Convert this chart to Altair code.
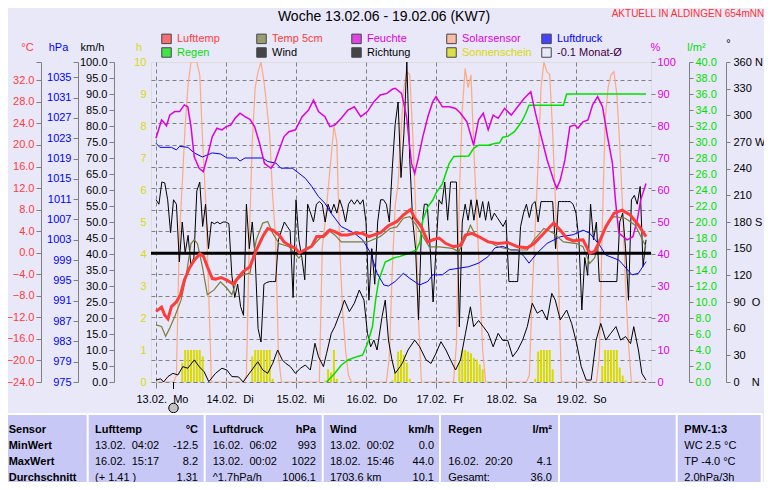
import altair as alt
import pandas as pd

# ---------------- values (x = hours since 13.02. 00:00) ----------------
temp = [(0,-10.9),(1.9,-10.1),(3,-11.6),(4.1,-12.3),(5.3,-10.0),(7,-9.1),(8.4,-7.8),(9.7,-5.1),(11.4,-2.9),
        (13.1,-1.4),(15.1,-0.2),(16.3,-0.7),(17.6,-2.6),(19.3,-4.8),(20.4,-4.9),(22.3,-4.6),(24.3,-5.1),
        (26.5,-5.8),(28.2,-4.6),(29.9,-3.5),(32.2,-2.6),(34.4,0.5),(36.6,3.0),(38.3,4.5),(40,4.2),(42.2,3.3),
        (43.9,2.0),(45.6,1.4),(47.8,0.8),(49.2,0.0),(51.2,0.6),(53.4,1.2),(55.1,3.0),(57.4,3.0),(59.6,4.2),
        (61.3,3.9),(63.5,3.3),(65.8,3.3),(68,3.6),(70.8,3.6),(73,3.0),(74.7,3.3),(76.9,3.7),(79.7,5.0),
        (82.6,5.8),(84.8,7.0),(87.3,8.0),(88.7,6.4),(91,4.8),(93.2,2.0),(94.9,2.4),(97.1,2.7),(99.4,1.7),
        (102.1,1.1),(104.4,1.4),(106.1,3.3),(108.3,3.6),(110.6,3.0),(113.9,2.0),(117.3,1.7),(120.6,1.9),
        (124,1.1),(127.3,0.9),(129.6,1.7),(132.4,3.3),(136.3,5.5),(138.6,4.2),(140.8,2.7),(143.1,2.2),
        (146.4,2.4),(148.7,-0.1),(150.3,0.2),(152,2.0),(154.2,4.8),(157,7.3),(159.8,7.9),(162.6,7.0),
        (165.4,5.1),(168,3.0)]
temp5 = [(0,-13.4),(1.9,-13.7),(3.3,-15.5),(4.7,-14.0),(6.4,-11.9),(8.6,-8.8),(10.3,-4.5),(12,1.7),(13.1,2.4),
         (14.2,1.7),(15.9,-2.6),(17.6,-7.8),(19.9,-6.9),(22.1,-5.4),(24.3,-6.6),(26,-7.8),(27.7,-5.1),
         (29.9,-4.1),(32.2,-3.8),(34.4,2.4),(36.6,5.5),(38.3,5.8),(40,3.6),(42.2,1.7),(45.6,1.1),(49,-1.0),
         (51.2,0.5),(53.4,1.1),(55.7,2.4),(59,4.2),(61.3,3.3),(63.5,2.0),(68,2.0),(72.5,2.0),(76.9,3.0),
         (80.3,4.5),(82.6,4.8),(84.8,6.4),(87,6.7),(89.3,5.1),(91.5,3.0),(93.7,1.1),(97.1,1.1),(101.6,0.8),
         (103.8,0.2),(106.1,2.7),(107.8,5.1),(109.5,3.3),(112.8,2.4),(117.3,1.1),(121.8,0.5),(127.3,0.5),
         (129.6,2.4),(133,4.5),(136.3,3.6),(139.7,2.0),(144.2,1.7),(146.4,1.1),(148.7,-2.0),(150.3,-1.0),
         (152.5,2.4),(154.8,5.5),(157,6.7),(160.9,6.4),(164.3,5.1),(168,1.1)]
humidity = [(0,76.2),(1.9,81.9),(2.5,81.3),(3.6,80),(4.7,83.4),(6.4,84.5),(8.1,84.5),(9.7,86.6),(10.9,86),
            (12,79.8),(13.1,70.4),(14.8,66.8),(16.2,65.7),(17.6,70.4),(19.3,76.7),(20.9,79.3),(22.6,78.8),
            (24.1,79.8),(25.6,80.3),(27.1,82.4),(28.8,84),(30.5,82.9),(32.2,82.1),(33.8,79.8),(35.5,74.6),
            (37.2,68.3),(39.4,66.8),(40.6,68.3),(42.2,72.5),(43.9,76.7),(45.6,78.2),(47.8,78.8),(50.1,82.9),
            (52.3,85),(54,88.1),(55.7,84.5),(57.9,82.9),(59.6,79.8),(61.3,80.3),(63.5,82.4),(65.8,85),(68,86),
            (70.2,82.9),(72.5,84.5),(74.7,87.6),(76.9,89.7),(79.2,90.2),(81,91.5),(82,91.8),(84.2,90.2),
            (85.9,82.9),(87.6,68.3),(88.7,65.2),(89.8,69.4),(91.5,76.7),(93.2,82.9),(94.9,87.6),(96,89.2),
            (98.2,86),(100.5,86),(102.7,85.5),(104.4,84),(106.6,81.3),(108.9,74),(110.6,81.9),(112.2,84),
            (113.9,78.8),(115.6,83.4),(117.3,82.4),(119.5,85.5),(121.8,83.4),(124,86),(126.2,88.6),
            (128.5,90.7),(130.1,84),(131.8,77.7),(134.1,69.4),(136.3,63.1),(137.4,60.5),(138.6,63.1),
            (140.2,69.4),(141.9,79.8),(143.6,80.3),(144.7,79.3),(146.4,81.3),(148.1,81.9),(149.7,86.6),
            (151.4,89.2),(153.1,86),(154.8,76.7),(156.5,68.3),(157.5,57),(158.7,46.5),(161.5,44.4),
            (163.5,45.4),(165,50.6),(166.2,57),(168,62)]
pressure = [(0,1022.0),(1.3,1021.2),(5.3,1021.2),(7,1020.7),(8.1,1021.4),(10.9,1021.2),(13.1,1020.1),
            (15.9,1019.3),(19.3,1020.1),(22.1,1019.9),(24.3,1019.1),(27.7,1019.1),(28.8,1018.5),(30.5,1019.1),
            (36.6,1019.1),(38.3,1018.4),(41.1,1018.1),(42.8,1017.1),(46.7,1017.1),(49,1016.1),(51.2,1015.1),
            (53.4,1013.5),(55.7,1011.5),(57.9,1010.2),(60.1,1008.2),(63.5,1005.6),(68,1004.3),(70.8,1003),
            (73.6,1000.4),(75.8,996.4),(78.1,994.1),(79.7,993.9),(82,994.8),(84.8,996.4),(87,995.4),
            (90.4,994.1),(93.2,994.8),(94.9,996.1),(98.2,996.1),(100.5,997.1),(103.8,997.4),(107.2,997.7),
            (110.6,998.4),(113.9,999.7),(116.2,1001.4),(118.9,1001.7),(121.7,1001),(124,1001),(126.2,999.7),
            (127.9,998.4),(130.7,1000.4),(134.1,1002.3),(138.6,1003.6),(143.1,1004),(146.4,1004.9),
            (148.7,1004.3),(152,1002),(154.2,1000),(158.7,999),(163.2,996.1),(165.4,996.4),(168,998.7)]
rain = [(58.5,0),(61.3,1.1),(63.5,2.1),(65.8,2.75),(69.1,3.2),(70.8,3.35),(72.5,4.8),(74.2,6.9),(75.3,10.25),
        (76.4,12.75),(78.6,15),(81.4,15.5),(83.7,15.7),(86,16.0),(89.3,16.5),(90.5,17.5),(91.5,20.25),
        (93.2,21.9),(94.9,22.75),(96,23.6),(98.2,24.8),(100.5,27.3),(102.1,28.2),(107.2,28.25),(108.9,29.2),
        (110.6,29.6),(113.9,29.6),(116.1,29.8),(117.8,29.9),(118.9,30.6),(120.6,30.7),(122.9,31.3),
        (124.5,32.1),(125.7,32.75),(126.8,33.6),(127.9,34.6),(139.7,34.6),(140.8,36),(168,36)]
wind = [(0,0.6),(1.6,1),(2.6,0),(4.1,1.7),(5.8,2.7),(7.5,2.2),(9.2,4.8),(10.9,4.3),(13.1,6.9),(14.8,4.8),
        (16.5,3.2),(18.1,0.1),(20.4,2.7),(22.6,4.3),(24.3,3.75),(26,1.7),(28.3,1.6),(29.9,0),(31.6,2.2),
        (33.3,4.3),(34.9,6.3),(36.6,3.75),(38.3,2.7),(40,5.8),(41.7,10),(43.3,6.9),(44.5,5.8),(46.1,4.8),
        (47.8,2.7),(49.5,4.3),(51.2,5.3),(52.9,3.75),(54.5,12.1),(55.7,7.9),(57.4,4.8),(58.5,9),(60.1,15.2),
        (61.3,17.3),(63.5,22.5),(64.6,25.6),(66.3,22),(68,24.6),(69.7,28.75),(71.3,25.6),(72.5,15.2),
        (73.6,11),(74.7,13.1),(75.8,10),(77.5,20.4),(78.6,25.6),(79.7,13.1),(80.9,6.9),(82,2.7),(83.7,4.8),
        (84.5,6),(86.4,10),(88.7,13.1),(90.4,11),(92.6,6.9),(94.3,5.8),(96,9),(97.7,12.6),(99.4,10),(101,6.9),
        (102.7,3.75),(104.4,6.9),(106.1,15.2),(107.8,23.5),(108.9,17.3),(110.6,19.2),(112.2,17.3),
        (113.9,15.2),(115.6,11),(117.3,15.2),(118.9,13),(120.6,13),(122.3,7.9),(124,10),(125.7,13.1),
        (127.3,17.3),(129,24.6),(130.7,21.5),(132.4,22.5),(134.1,19.4),(135.7,27.7),(136.9,25.6),
        (138.6,19.4),(140.8,22.5),(142.5,18.3),(144.2,12.1),(145.8,4.8),(147.5,0.6),(149.2,0.6),(150.9,13.1),
        (152.5,18.3),(154.2,13.1),(155.9,15.2),(157.7,17.3),(159.3,13.1),(161,14.2),(162.7,12),(163.8,17.3),
        (165.4,10),(166.6,2.7),(168,0.6)]
# hourly wind direction in degrees (h = 0 .. 168)
direction = [205,200,225,224,205,168,205,200,135,180, 145,165,130,140,215,225,175,200,150,180,
             178,180,178,180,180,178,120,95,110,85, 75,200,150,180,140,60,45,110,112,113,
             113,113,160,170,180,175,170,95,205,160, 140,115,200,190,180,200,203,200,180,200,
             190,200,190,205,195,180,200,205,200,205, 200,205,180,92,150,110,180,205,205,200,
             180,240,290,315,230,280,360,250,182,150, 70,170,200,200,150,90,150,205,200,225,
             182,225,225,225,62,180,200,182,205,182, 205,185,203,182,203,182,190,185,180,175,
             182,113,113,113,113,175,190,200,185,200, 203,180,203,203,203,203,203,150,203,203,
             203,203,203,200,190,160,81,140,120,200, 160,180,113,113,113,113,113,113,113,180,
             190,150,92,205,210,200,220,130,160]
# hourly solar sensor (share of the plotted range, clipped at the top)
solar = [0,0,0,0,0,0,0,2,45,62, 80,93,100,100,100,96,75,57,30,0, 0,0,0,0,0,0,0,0,0,0,
         0,2,45,75,92,97,100,94,86,77, 58,45,8,0,0,0,0,0,0,0, 0,0,0,0,0,0,0,42,50,60,
         70,80,75,42,22,10,2,0,0,0, 0,0,0,0,0,0,0,0,0,0, 8,35,55,62,78,92,97,96,78,55,
         20,0,0,0,0,0,0,0,0,0, 0,0,0,12,58,85,98,92,96,72, 52,32,10,0,0,0,0,0,0,0,
         0,0,0,0,0,0,0,0,2,28, 48,68,92,100,97,96,78,55,33,0, 0,0,0,0,0,0,0,0,0,0,
         0,0,8,48,82,92,96,97,90,74, 54,30,12,0,0,0,0,0,0]
sunshine = [(9,0.6),(10,1),(11,1),(12,1),(13,1),(14,1),(15,1),(16,0.8),
            (33,0.8),(34,1),(35,1),(36,1),(37,1),(38,1),(39,1),(40,0.1),
            (58,0.05),(59,0.4),(60,0.3),(61,1.0),(62,0.1),
            (81,0.05),(82,0.35),(83,0.95),(84,1.0),(85,0.85),(86,0.6),(87,0.1),
            (104,0.6),(105,1),(106,1),(107,0.95),(108,0.9),(109,0.75),(110,0.7),(111,0.55),(112,0.4),
            (130,0.1),(131,0.95),(132,1),(133,1),(134,1),(135,1),(136,0.4),
            (153,0.5),(154,1),(155,1),(156,1),(157,1),(158,1),(159,0.45),(160,0.2),(161,0.05)]
month_avg = [-0.1]
marker_hour = [6]

day_labels = ["13.02.\u00a0 Mo", "14.02.\u00a0 Di", "15.02.\u00a0 Mi", "16.02.\u00a0 Do",
              "17.02.\u00a0 Fr", "18.02.\u00a0 Sa", "19.02.\u00a0 So"]
legend_names = ["Lufttemp", "Temp 5cm", "Feuchte", "Solarsensor", "Luftdruck",
                "Regen", "Wind", "Richtung", "Sonnenschein", "-0.1 Monat-Ø"]

title_text = "Woche 13.02.06 - 19.02.06 (KW7)"
station_text = "AKTUELL IN ALDINGEN 654mNN"
row_labels = ["Sensor", "MinWert", "MaxWert", "Durchschnitt"]
headers = [("Lufttemp", "°C"), ("Luftdruck", "hPa"), ("Wind", "km/h"), ("Regen", "l/m²")]
col_left = [["13.02.\u00a0 04:02", "16.02.\u00a0 15:17", "\u00a0(+ 1.41 )"],
            ["16.02.\u00a0 06:02", "13.02.\u00a0 00:02", "^1.7hPa/h"],
            ["13.02.\u00a0 00:02", "18.02.\u00a0 15:46", "1703.6 km"],
            ["", "16.02.\u00a0 20:20", "Gesamt:"]]
col_right = [["-12.5", "8.2", "1.31"], ["993", "1022", "1006.1"], ["0.0", "44.0", "10.1"], ["", "4.1", "36.0"]]
pmv = ["PMV-1:3", "WC 2.5 °C", "TP -4.0 °C", "2.0hPa/3h"]

# ---------------- styling ----------------
FONT = "Liberation Sans"
GRAY = "#808080"
BG = "#E8E8F8"
TABLE_BG = "#C8C8F6"
RED = "#FF3C3C"
OLIVE = "#7C7C3C"
MAGENTA = "#DD00DD"
SALMON = "#FFA882"
BLUE = "#0000FF"
GREEN = "#00E000"
YELLOW = "#DADA00"
PURPLE = "#400040"

xscale = alt.Scale(domain=[0, 168], nice=False, zero=False)
x_axis = alt.Axis(values=[0, 24, 48, 72, 96, 120, 144],
                  labelExpr="[" + ",".join("'%s'" % d for d in day_labels) + "][round(datum.value/24)]",
                  grid=True, gridDash=[4, 3], gridColor=GRAY, gridWidth=1,
                  ticks=True, tickSize=6, tickColor=GRAY, domain=False,
                  labelAlign="left", labelOffset=-20, labelPadding=5, labelFontSize=11, labelFont=FONT,
                  labelColor="black", labelOverlap=False, labelFlush=False, labelBound=False, title=None)


def X():
    return alt.X("h:Q", scale=xscale, axis=x_axis)


def yscale(lo, hi):
    return alt.Scale(domain=[lo, hi], nice=False, zero=False)


def yaxis(values, orient, offset, color, title, tx, ty, expr, tick=5, domain=True, pad=2):
    return alt.Axis(values=values, orient=orient, offset=offset, labelExpr=expr, labelColor=color,
                    labelFont=FONT, labelFontSize=11, labelPadding=pad, labelOverlap=False,
                    labelBound=False, labelFlush=False, ticks=True, tickSize=tick, tickColor=GRAY,
                    domain=domain, domainColor=GRAY, domainWidth=1, grid=False,
                    title=title, titleColor=color, titleFont=FONT, titleFontSize=11,
                    titleFontWeight="normal", titleAngle=0, titleAlign="center",
                    titleBaseline="middle", titleX=tx, titleY=ty)


T_DOM = [-24, 35.4]
P_DOM = [975, 1038]
ax_temp = yaxis(list(range(-24, 33, 4)) + [35.4], "left", 110, RED, "°C", -14, -15,
                "datum.value > 33 ? '' : format(datum.value, '.1f')")
ax_press = yaxis(list(range(975, 1036, 4)) + [1038], "left", 73, BLUE, "hPa", -20, -15,
                 "datum.value > 1036 ? '' : format(datum.value, 'd')")
ax_wind = yaxis(list(range(0, 101, 5)), "left", 37, "black", "km/h", -22, -15,
                "format(datum.value, '.1f')")
ax_sun = yaxis(list(range(0, 11)), "left", 0, YELLOW, "h", -12.5, -15,
               "format(datum.value, 'd')", tick=0, domain=False, pad=5)
ax_hum = yaxis(list(range(0, 101, 10)), "right", 0, MAGENTA, "%", 4, -15,
               "format(datum.value, 'd')", tick=4, domain=False, pad=2)
ax_rain = yaxis(list(range(0, 41, 2)), "right", 38, GREEN, "l/m²", 7, -15,
                "format(datum.value, '.1f')", tick=4, pad=2)
NB = "\u00a0"
ax_dir = yaxis(list(range(0, 361, 30)), "right", 75, "black", "°", 2, -19,
               "datum.value == 360 ? '360" + NB + "N' : datum.value == 270 ? '270" + NB + "W' : "
               "datum.value == 180 ? '180" + NB + "S' : datum.value == 90 ? '90" + NB * 2 + "O' : "
               "datum.value == 0 ? '0" + NB * 4 + "N' : datum.label", tick=4, pad=3)
grid_axis = alt.Axis(values=list(range(-24, 33, 4)), orient="left", grid=True, gridColor=GRAY,
                     gridDash=[4, 3], gridWidth=1, labels=False, ticks=False, domain=False, title=None)


def line(pairs, color, width, domain, axis=None):
    df = pd.DataFrame(pairs, columns=["h", "v"])
    return alt.Chart(df).mark_line(color=color, strokeWidth=width, clip=True).encode(
        x=X(), y=alt.Y("v:Q", scale=yscale(*domain), axis=axis))


hourly = list(range(169))
layers = [
    alt.Chart(pd.DataFrame(sunshine, columns=["h", "v"])).mark_bar(color=YELLOW, width=2).encode(
        x=X(), y=alt.Y("v:Q", scale=yscale(0, 10), axis=ax_sun)),
    line(list(zip(hourly, solar)), SALMON, 1.2, (0, 100)),
    line(list(zip(hourly, direction)), "black", 1, (0, 360), ax_dir),
    line(wind, "black", 1, (0, 100), ax_wind),
    line(rain, GREEN, 1.5, (0, 40), ax_rain),
    line(pressure, BLUE, 1, P_DOM, ax_press),
    line(humidity, MAGENTA, 1.5, (0, 100), ax_hum),
    line(temp5, OLIVE, 1.2, T_DOM),
    alt.Chart(pd.DataFrame({"v": month_avg})).mark_rule(color="black", strokeWidth=3).encode(
        y=alt.Y("v:Q", scale=yscale(*T_DOM), axis=grid_axis)),
    line(temp, RED, 3, T_DOM, ax_temp),
]

one = pd.DataFrame({"k": [0]})


def text(t, x, y, size=11, color="black", align="left", weight="normal", baseline="alphabetic"):
    return alt.Chart(one).mark_text(text=t, font=FONT, fontSize=size, color=color, align=align,
                                    fontWeight=weight, baseline=baseline, lineHeight=16).encode(
        x=alt.value(x), y=alt.value(y))


# marker below the axis
mk = pd.DataFrame({"h": marker_hour})
layers.append(alt.Chart(mk).mark_rule(color="black").encode(x=X(), y=alt.value(320), y2=alt.value(327)))
layers.append(alt.Chart(mk).mark_point(shape="circle", size=90, filled=True, fill="#C4C4C4",
                                       stroke="black", strokeWidth=1, opacity=1).encode(
    x=X(), y=alt.value(346)))

# titles
layers.append(text(title_text, 233, -41, size=14, align="center"))
layers.append(text(station_text, 460.7, -48, size=10, color="#FF3030", baseline="middle"))

# statistics table
layers.append(alt.Chart(one).mark_rect(color=TABLE_BG).encode(
    x=alt.value(-143), x2=alt.value(611), y=alt.value(352), y2=alt.value(430)))
layers.append(alt.Chart(one).mark_rule(color="white", strokeWidth=2).encode(
    x=alt.value(-143), x2=alt.value(611), y=alt.value(352)))
for sx in [-63.3, 53.7, 171.7, 289, 408, 525.7, 610.7]:
    layers.append(alt.Chart(one).mark_rule(color="white", strokeWidth=2).encode(
        x=alt.value(sx), y=alt.value(352), y2=alt.value(430)))

layers.append(text(row_labels, -142.3, 371, weight="bold"))
lefts = [-56, 61.7, 179, 297.3]
rights = [47, 165, 283, 401]
for i in range(4):
    layers.append(text(headers[i][0], lefts[i], 371, weight="bold"))
    layers.append(text(headers[i][1], rights[i], 371, weight="bold", align="right"))
    layers.append(text(col_left[i], lefts[i], 387))
    layers.append(text(col_right[i], rights[i], 387, align="right"))
layers.append(text(pmv[0], 533.3, 371, weight="bold"))
layers.append(text(pmv[1:], 533.3, 387))

# legend (drawn by the library from a fill scale)
leg_fill = [RED, OLIVE, MAGENTA, SALMON, BLUE, GREEN, "black", "black", YELLOW, BG]
leg_text = [RED, RED, MAGENTA, MAGENTA, BLUE, GREEN, "black", "black", YELLOW, PURPLE]
names_js = "[" + ",".join("'%s'" % n for n in legend_names) + "]"
cols_js = "[" + ",".join("'%s'" % c for c in leg_text) + "]"
layers.append(
    alt.Chart(pd.DataFrame({"name": legend_names})).transform_filter("false").mark_square(
        filled=True, stroke="black", strokeWidth=1).encode(
        fill=alt.Fill("name:N", scale=alt.Scale(domain=legend_names, range=leg_fill),
                      legend=alt.Legend(orient="none", legendX=10, legendY=-29, columns=5,
                                        direction="horizontal", gridAlign="all", title=None,
                                        symbolType="square", symbolSize=90, symbolStrokeWidth=1,
                                        symbolStrokeColor="black", labelFont=FONT, labelFontSize=11,
                                        labelColor={"expr": cols_js + "[indexof(" + names_js + ", datum.value)]"},
                                        labelOffset=5, columnPadding=7, rowPadding=-1, padding=0,
                                        labelLimit=200)))
)

chart = alt.layer(*layers).resolve_scale(y="independent").properties(
    width=500, height=320,
    padding={"left": 143, "top": 54, "right": 113, "bottom": 100},
    autosize=alt.AutoSizeParams(type="none"),
    background=BG,
).configure_view(stroke=GRAY, strokeWidth=3).configure(font=FONT)

chart.save("out.html", embed_options={"renderer": "svg", "actions": False})
